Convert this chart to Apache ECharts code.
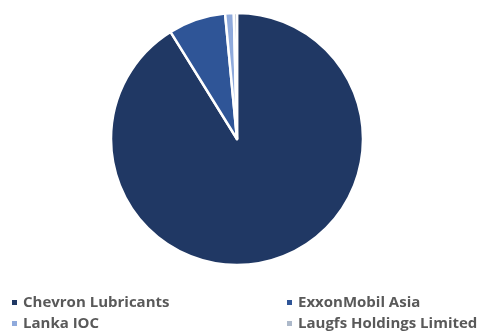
<!DOCTYPE html>
<html><head><meta charset="utf-8">
<script src="https://cdn.jsdelivr.net/npm/echarts@6/dist/echarts.min.js"></script>
<style>html,body{margin:0;padding:0;background:#fff}#c{width:482px;height:334px}</style>
</head><body><div id="c"></div>
<script>
const categories = ['Chevron Lubricants', 'ExxonMobil Asia', 'Lanka IOC', 'Laugfs Holdings Limited'];
const values = [90.7, 7.3, 1.1, 0.4];
const colors = ['#203864', '#2F5597', '#8FAADC', '#ADB9CA'];
const chart = echarts.init(document.getElementById('c'));
const legendText = {color: '#595959', fontSize: 15, fontWeight: 'bold', fontFamily: 'Open Sans'};
chart.setOption({
  animation: false,
  legend: [
    {data: [categories[0], categories[2]], orient: 'vertical', left: 10, top: 295, itemWidth: 7, itemHeight: 7, itemGap: 6, icon: 'rect', textStyle: legendText, padding: 0},
    {data: [categories[1], categories[3]], orient: 'vertical', left: 285, top: 295, itemWidth: 7, itemHeight: 7, itemGap: 6, icon: 'rect', textStyle: legendText, padding: 0}
  ],
  series: [{
    type: 'pie',
    center: [237, 139],
    radius: [0, 126],
    startAngle: 90,
    clockwise: true,
    label: {show: false},
    labelLine: {show: false},
    itemStyle: {borderColor: '#fff', borderWidth: 2.5},
    emphasis: {disabled: true},
    data: categories.map((n, i) => ({name: n, value: values[i], itemStyle: {color: colors[i]}}))
  }]
});
</script></body></html>
